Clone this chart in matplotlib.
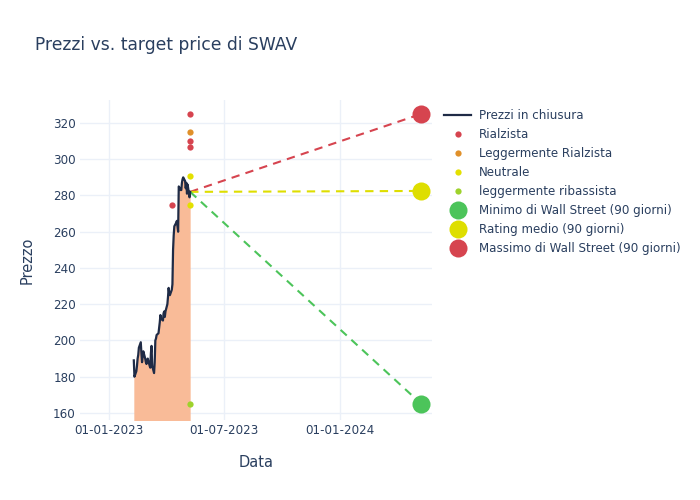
import matplotlib
matplotlib.use("Agg")
import matplotlib.pyplot as plt
import matplotlib.dates as mdates
import numpy as np
import pandas as pd

# closing prices (business days from 2023-02-09)
close_prices = [189, 180, 183, 186, 190, 192, 196, 199, 193, 188,
                191, 194, 190, 188, 187, 189, 190, 186, 185, 193,
                197, 186, 182, 188, 200, 201, 203, 204, 207, 210,
                214, 212, 211, 215, 216, 213, 216, 220, 224, 229,
                226, 225, 228, 231, 250, 258, 263, 265, 266, 263,
                260, 285, 283, 283, 287, 289, 290, 288, 284, 287,
                281, 286, 279, 282]
dates = pd.bdate_range(start="2023-02-09", periods=len(close_prices))

# analyst ratings
rating_date = dates[-1]
rialzista = [325, 310, 307]
rialzista_old_date = pd.Timestamp("2023-04-11")
rialzista_old = [275]
legg_rialzista = [315]
neutrale = [291, 275]
legg_ribassista = [165]

# 90 day targets
target_date = pd.Timestamp("2024-05-08")
target_min = 165
target_mean = 282.5
target_max = 325

text_col = "#2a3f5f"
grid_col = "#ebf0f8"

fig = plt.figure(figsize=(7, 5), dpi=100)
ax = fig.add_axes([80 / 700, 1 - 420 / 500, 352 / 700, 320 / 500])

ymin, ymax = 156.1, 332.7
ax.fill_between(dates, close_prices, ymin - 50, color="#f9bb98", linewidth=0, zorder=1)
ax.plot(dates, close_prices, color="#1f2b46", linewidth=1.6, label="Prezzi in chiusura", zorder=3)

last = close_prices[-1]
ax.plot([rating_date, target_date], [last, target_max], color="#d6444f", linestyle=(0, (4, 3)), linewidth=1.5, zorder=2)
ax.plot([rating_date, target_date], [last, target_mean], color="#dede00", linestyle=(0, (4, 3)), linewidth=1.5, zorder=2)
ax.plot([rating_date, target_date], [last, target_min], color="#4cc45a", linestyle=(0, (4, 3)), linewidth=1.5, zorder=2)

small = 4.5
ax.plot([rating_date] * len(rialzista) + [rialzista_old_date], rialzista + rialzista_old,
        "o", color="#d6444f", ms=small, mec="none", label="Rialzista", zorder=4)
ax.plot([rating_date] * len(legg_rialzista), legg_rialzista, "o", color="#e0902a", ms=small, mec="none",
        label="Leggermente Rialzista", zorder=4)
ax.plot([rating_date] * len(neutrale), neutrale, "o", color="#e3e000", ms=small, mec="none",
        label="Neutrale", zorder=4)
ax.plot([rating_date] * len(legg_ribassista), legg_ribassista, "o", color="#9ed22c", ms=small, mec="none",
        label="leggermente ribassista", zorder=4)

big = 13
ax.plot([target_date], [target_min], "o", color="#4cc45a", ms=big, mec="none",
        label="Minimo di Wall Street (90 giorni)", zorder=5)
ax.plot([target_date], [target_mean], "o", color="#dede00", ms=big, mec="none",
        label="Rating medio (90 giorni)", zorder=5)
ax.plot([target_date], [target_max], "o", color="#d6444f", ms=big, mec="none",
        label="Massimo di Wall Street (90 giorni)", zorder=5)

ax.set_ylim(ymin, ymax)
ax.set_xlim(pd.Timestamp("2022-11-16"), pd.Timestamp("2024-05-25"))
ax.set_yticks(np.arange(160, 321, 20))
ax.set_xticks([pd.Timestamp("2023-01-01"), pd.Timestamp("2023-07-01"), pd.Timestamp("2024-01-01")])
ax.xaxis.set_major_formatter(mdates.DateFormatter("%d-%m-%Y"))
ax.grid(True, color=grid_col, linewidth=1)
ax.set_axisbelow(True)
for s in ax.spines.values():
    s.set_visible(False)
ax.tick_params(length=0, colors=text_col, labelsize=8.6, pad=3)
ax.set_xlabel("Data", color=text_col, fontsize=10.5, labelpad=13)
ax.set_ylabel("Prezzo", color=text_col, fontsize=10.5, labelpad=13)

fig.text(35 / 700, 1 - 45 / 500, "Prezzi vs. target price di SWAV", color=text_col, fontsize=12.3, va="center")

leg = ax.legend(loc="upper left", bbox_to_anchor=(444 / 700, 1 - 109 / 500), bbox_transform=fig.transFigure,
                frameon=False, fontsize=8.6, labelspacing=0.5, handlelength=2.3, handletextpad=0.6,
                borderpad=0, borderaxespad=0)
for t in leg.get_texts():
    t.set_color(text_col)

fig.savefig("out.png", dpi=100)
